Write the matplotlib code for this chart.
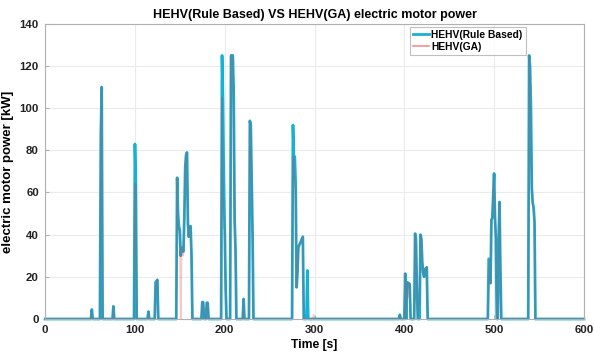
import numpy as np
import matplotlib
matplotlib.use("Agg")
import matplotlib.pyplot as plt

plt.rcParams['font.family'] = ['Liberation Sans', 'DejaVu Sans']
plt.rcParams['font.weight'] = 'bold'

# nonzero samples (time [s] -> power [kW]), everything else is 0
rb_t = [52, 62, 63, 76, 100, 101, 115, 123, 124, 125,
        147, 148, 149, 150, 151, 152, 153, 154, 155, 156, 157, 158, 159, 160, 161, 162, 163,
        175, 176, 180, 181, 197, 198, 199, 200, 201, 207, 208, 209, 210, 211, 212, 221,
        228, 229, 230, 231, 276, 277, 278, 279, 280, 281, 282, 283, 284, 285, 286, 287, 292,
        395, 401, 403, 404, 405, 406, 412, 413, 414,
        418, 419, 420, 421, 422, 423, 424, 425,
        494, 495, 496, 497, 498, 499, 500, 501, 502, 505, 506, 507,
        539, 540, 541, 542, 543, 544, 545]
rb_p = [4.5, 87, 110, 6, 83, 64, 3.5, 17.5, 18, 18.5,
        67, 50, 44, 42, 30, 34, 33, 32, 48, 72, 78, 79, 45, 39, 44, 44, 30,
        8, 8, 7.7, 7.7, 125, 105, 64, 43, 15, 125, 125, 125, 108, 47, 33, 9.5,
        94, 92, 67, 40, 92, 77, 77, 64, 15, 22, 34, 35, 36, 37, 38, 39, 23,
        2, 21.5, 17.5, 17, 17, 16.5, 40.5, 38, 15,
        40, 38, 27, 22, 20, 23, 24, 24.5,
        28.5, 28, 17, 47, 48, 58, 69, 48, 38, 37, 55.5, 24,
        125, 120, 100, 62, 55, 53, 46]

ga_t = [52, 62, 63, 76, 100, 101, 115, 123, 124, 125,
        147, 148, 149, 150, 152, 153, 154, 155, 156, 157, 158, 159, 160, 161, 162, 163,
        175, 176, 180, 181, 197, 198, 199, 200, 201, 207, 208, 209, 210, 211, 212, 221,
        228, 229, 230, 231, 276, 277, 278, 279, 280, 281, 282, 283, 284, 285, 286, 287, 299,
        395, 401, 403, 404, 405, 406, 412, 413, 414, 416, 417,
        418, 419, 420, 421, 422, 423, 424, 425,
        494, 495, 496, 497, 498, 499, 500, 501, 502, 505, 506, 507,
        539, 540, 541, 542, 543, 544, 545]
ga_p = [4.5, 92, 110, 6, 64, 64, 3.5, 14, 18, 19,
        67, 45, 42, 40, 34, 32, 30, 48, 74, 78, 79, 45, 39, 44, 44, 30,
        8, 8, 7.7, 7.7, 105, 65, 43, 43, 15, 125, 125, 125, 100, 47, 33, 9.5,
        94, 92, 68, 40, 77, 77, 63, 63, 15, 20, 34, 35, 36, 37, 38, 39, 2,
        2, 21.5, 17.5, 10, 17, 16.5, 40.5, 34, 15, 7, 7,
        40, 38, 27, 22, 20, 24, 24, 24.5,
        17, 28, 17, 47, 48, 58, 69, 48, 38, 37, 55.5, 24,
        125, 118, 95, 62, 55, 50, 46]

time = np.arange(0, 601)
p_rb = np.zeros(len(time))
p_rb[rb_t] = rb_p
p_ga = np.zeros(len(time))
p_ga[ga_t] = ga_p

fig = plt.figure(figsize=(5.94, 3.56), dpi=100)
ax = fig.add_axes([0.076, 0.104, 0.907, 0.829])

ax.plot(time, p_rb, color='#17b1d6', lw=2.0, label='HEHV(Rule Based)', clip_on=False)
ax.plot(time, p_ga, color='#e52222', lw=1.2, alpha=0.25, label='HEHV(GA)', clip_on=False)

ax.set_xlim(0, 600)
ax.set_ylim(0, 140)
ax.set_xticks(np.arange(0, 601, 100))
ax.set_yticks(np.arange(0, 141, 20))
ax.grid(True, color='#ebebeb', lw=0.8)
ax.set_axisbelow(True)
for s in ax.spines.values():
    s.set_color('#b0b0b0')
    s.set_linewidth(0.8)
ax.tick_params(direction='in', length=3, color='#b0b0b0', labelsize=8.2, labelcolor='#222222', pad=4.5)

ax.set_title('HEHV(Rule Based) VS HEHV(GA) electric motor power', fontsize=9, fontweight='bold', pad=4)
ax.set_xlabel('Time [s]', fontsize=8.7, fontweight='bold', labelpad=3)
ax.set_ylabel('electric motor power [kW]', fontsize=9.5, fontweight='bold', labelpad=4)

leg = ax.legend(loc='upper right', bbox_to_anchor=(0.892, 0.99), fontsize=7.4, frameon=True,
                fancybox=False, handlelength=1.55, handletextpad=0.2, borderpad=0.3,
                labelspacing=0.2, borderaxespad=0)
leg.get_frame().set_edgecolor('#b0b0b0')
leg.get_frame().set_linewidth(0.8)
leg.get_lines()[1].set_alpha(0.5)

plt.savefig('out.png', dpi=100)
